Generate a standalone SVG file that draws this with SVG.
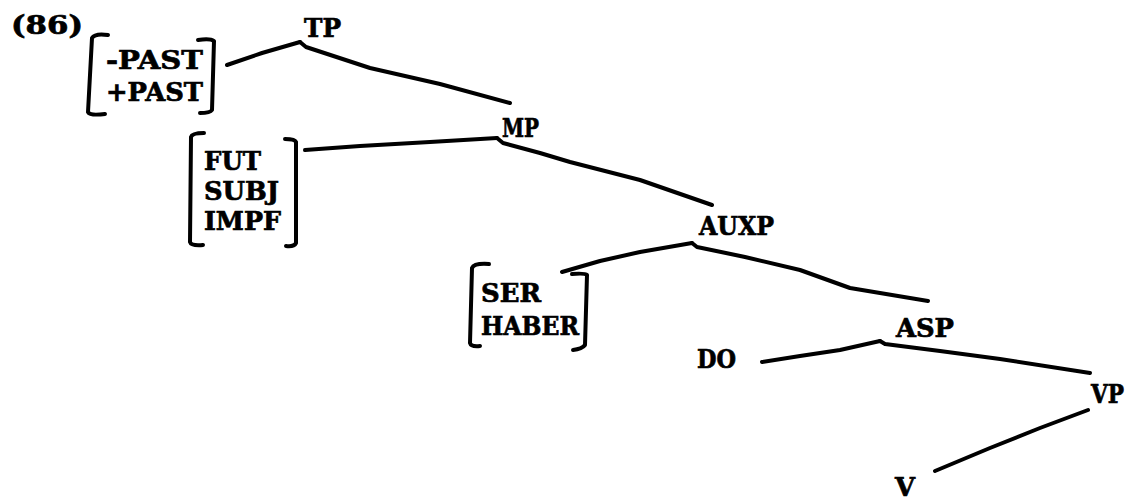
<svg xmlns="http://www.w3.org/2000/svg" width="1140" height="498" viewBox="0 0 1140 498">
<style>
text{font-family:"DejaVu Serif","Liberation Serif",serif;font-weight:bold;font-size:26px;fill:#000;stroke:#000;stroke-width:0.7}
.e{fill:none;stroke:#000;stroke-width:4;stroke-linecap:round;stroke-linejoin:round}
.b{fill:none;stroke:#000;stroke-width:4;stroke-linecap:round;stroke-linejoin:round}
</style>
<rect width="1140" height="498" fill="#fff"/>
<text id="label" x="11" y="34" textLength="72" lengthAdjust="spacingAndGlyphs">(86)</text>
<g id="TP"><text x="304" y="37" textLength="37" lengthAdjust="spacingAndGlyphs">TP</text></g>
<g id="PAST">
<path class="b" d="M108,35 Q95,33 92,38 L88,112 Q90,116 105,114"/>
<path class="b" d="M198,40 Q210,38 214,41 L212,110 Q210,113 200,113"/>
<text x="106" y="69" textLength="97" lengthAdjust="spacingAndGlyphs">-PAST</text>
<text x="106" y="101" textLength="97" lengthAdjust="spacingAndGlyphs">+PAST</text>
</g>
<g id="MP"><text x="502" y="137" textLength="37" lengthAdjust="spacingAndGlyphs">MP</text></g>
<g id="MOOD">
<path class="b" d="M204,133 Q192,133 191,137 L190,242 Q191,246 203,245"/>
<path class="b" d="M285,139 Q295,139 296,142 L296,243 Q294,247 286,246"/>
<text x="204" y="170" textLength="57" lengthAdjust="spacingAndGlyphs">FUT</text>
<text x="204" y="200" textLength="75" lengthAdjust="spacingAndGlyphs">SUBJ</text>
<text x="204" y="230" textLength="77" lengthAdjust="spacingAndGlyphs">IMPF</text>
</g>
<g id="AUXP"><text x="699" y="235" textLength="75" lengthAdjust="spacingAndGlyphs">AUXP</text></g>
<g id="AUX">
<path class="b" d="M489,264 Q474,263 472,268 L470,343 Q471,347 480,346"/>
<path class="b" d="M572,274 Q585,273 587,275 L585,345 Q582,349 573,350"/>
<text x="481" y="302" textLength="60" lengthAdjust="spacingAndGlyphs">SER</text>
<text x="481" y="335" textLength="98" lengthAdjust="spacingAndGlyphs">HABER</text>
</g>
<g id="ASP"><text x="896" y="337" textLength="58" lengthAdjust="spacingAndGlyphs">ASP</text></g>
<g id="DO"><text x="697" y="368" textLength="39" lengthAdjust="spacingAndGlyphs">DO</text></g>
<g id="VP"><text x="1091" y="403" textLength="33" lengthAdjust="spacingAndGlyphs">VP</text></g>
<g id="V"><text x="895" y="496" textLength="20" lengthAdjust="spacingAndGlyphs">V</text></g>
<g id="edges">
<polyline class="e" points="227,65 262,53 300,42"/>
<polyline class="e" points="300,42 306,47 370,68 440,84 510,103"/>
<polyline class="e" points="305,150 360,146 430,142 497,138"/>
<polyline class="e" points="497,138 503,143 540,153 570,162 640,180 712,205"/>
<polyline class="e" points="562,272 600,261 640,252 692,243"/>
<polyline class="e" points="692,243 697,247 745,257 800,270 850,288 928,301"/>
<polyline class="e" points="762,362 800,356 840,350 880,341"/>
<polyline class="e" points="880,341 885,344 940,351 1000,359 1090,373"/>
<polyline class="e" points="1088,410 1040,428 990,448 935,471"/>
</g>
</svg>
